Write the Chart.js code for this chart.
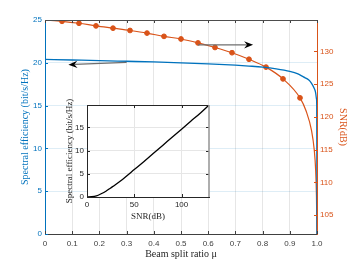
<!DOCTYPE html>
<html>
<head>
<meta charset="utf-8">
<script src="https://cdn.jsdelivr.net/npm/chart.js@4.4.1/dist/chart.umd.min.js"></script>
<style>
    html, body { margin: 0; padding: 0; background: #fff; }
    #wrap { position: relative; width: 350px; height: 263px; }
    #mainChart { position: absolute; left: 0; top: 0; }
    #insetChart { position: absolute; left: 60px; top: 95px; }
</style>
</head>
<body>
<div id="wrap">
    <canvas id="mainChart" width="350" height="263"></canvas>
    <canvas id="insetChart" width="155" height="130"></canvas>
</div>
<script>
/************** data ************/

// spectral efficiency vs beam split ratio (left axis)
const effRatio = [0, 0.1, 0.2, 0.3, 0.4, 0.5, 0.6, 0.7, 0.75, 0.8, 0.85, 0.9, 0.93, 0.95, 0.97, 0.98, 0.99, 0.995, 0.998, 0.999, 1];
const effValues = [20.4, 20.33, 20.26, 20.18, 20.1, 20.0, 19.88, 19.72, 19.62, 19.5, 19.3, 19.0, 18.7, 18.35, 18.0, 17.6, 17.0, 16.5, 15.8, 15.0, 0];

// SNR vs beam split ratio (right axis), points 1..15 carry markers
const snrRatio = [0, 0.0625, 0.125, 0.1875, 0.25, 0.3125, 0.375, 0.4375, 0.5, 0.5625, 0.625, 0.6875, 0.75, 0.8125, 0.875, 0.9375, 0.96, 0.98, 0.99, 0.995, 0.998, 0.999, 0.9995];
const snrValues = [134.8, 134.6, 134.3, 133.9, 133.55, 133.2, 132.8, 132.3, 131.9, 131.3, 130.6, 129.8, 128.8, 127.6, 125.8, 122.9, 120.9, 117.9, 114.9, 111.9, 107.9, 104.9, 102.1];

// inset : spectral efficiency vs SNR
const insetSnr = [0, 5, 10, 15, 20, 25, 30, 35, 40, 50, 60, 70, 80, 90, 100, 110, 120, 129];
const insetEff = [0, 0.05, 0.25, 0.7, 1.25, 1.95, 2.65, 3.4, 4.2, 5.9, 7.6, 9.35, 11.1, 12.85, 14.6, 16.35, 18.1, 19.8];

// tick labels
const xTicks = [0, 0.1, 0.2, 0.3, 0.4, 0.5, 0.6, 0.7, 0.8, 0.9, 1];
const effTicks = [0, 5, 10, 15, 20, 25];
const snrTicks = [105, 110, 115, 120, 125, 130];
const insetXTicks = [0, 50, 100];
const insetYTicks = [0, 5, 10, 15];

// arrows [ratio, value] and the axis they belong to
const arrowTail = [[0.5625, 131.0], [0.30, 20.06]];
const arrowHead = [[0.765, 131.0], [0.086, 19.78]];
const arrowAxis = ['y2', 'y'];

const BLUE = '#0072BD';
const ORANGE = '#D95319';

Chart.defaults.font.family = 'Liberation Sans';

// x,y 묶기
function toPoints(xs, ys) {
    return xs.map((x, i) => ({ x: x, y: ys[i] }));
}

function fixTicks(list) {
    return scale => { scale.ticks = list.map(v => ({ value: v })); };
}

// ticks pointing into the plot, matlab style
function drawInnerTicks(chart, len, mirrorY) {
    const { ctx, chartArea: a, scales } = chart;
    ctx.save();
    ctx.lineWidth = 1;
    Object.values(scales).forEach(s => {
        ctx.strokeStyle = s.options.border.color;
        s.ticks.forEach(t => {
            const p = Math.round(s.getPixelForValue(t.value)) + 0.5;
            ctx.beginPath();
            if (s.isHorizontal()) {
                ctx.moveTo(p, a.bottom); ctx.lineTo(p, a.bottom - len);
                ctx.moveTo(p, a.top); ctx.lineTo(p, a.top + len);
            } else if (s.position === 'left') {
                ctx.moveTo(a.left, p); ctx.lineTo(a.left + len, p);
                if (mirrorY) { ctx.moveTo(a.right, p); ctx.lineTo(a.right - len, p); }
            } else {
                ctx.moveTo(a.right, p); ctx.lineTo(a.right - len, p);
            }
            ctx.stroke();
        });
    });
    ctx.restore();
}

const mainDecor = {
    id: 'mainDecor',
    afterDraw(chart) {
        const { ctx, chartArea: a, scales } = chart;
        drawInnerTicks(chart, 3, false);
        // top box line
        ctx.save();
        ctx.strokeStyle = '#4d4d4d';
        ctx.lineWidth = 1;
        ctx.beginPath();
        ctx.moveTo(a.left, a.top + 0.5);
        ctx.lineTo(a.right, a.top + 0.5);
        ctx.stroke();

        // arrows
        arrowTail.forEach((tail, i) => {
            const yScale = scales[arrowAxis[i]];
            const x0 = scales.x.getPixelForValue(tail[0]);
            const y0 = yScale.getPixelForValue(tail[1]);
            const x1 = scales.x.getPixelForValue(arrowHead[i][0]);
            const y1 = yScale.getPixelForValue(arrowHead[i][1]);
            const ang = Math.atan2(y1 - y0, x1 - x0);
            const L = 9, W = 3.6, N = 6;
            ctx.strokeStyle = '#6e6e6e';
            ctx.lineWidth = 1.3;
            ctx.beginPath();
            ctx.moveTo(x0, y0);
            ctx.lineTo(x1 - N * Math.cos(ang), y1 - N * Math.sin(ang));
            ctx.stroke();
            ctx.fillStyle = '#000';
            ctx.beginPath();
            ctx.moveTo(x1, y1);
            ctx.lineTo(x1 - L * Math.cos(ang) + W * Math.sin(ang), y1 - L * Math.sin(ang) - W * Math.cos(ang));
            ctx.lineTo(x1 - N * Math.cos(ang), y1 - N * Math.sin(ang));
            ctx.lineTo(x1 - L * Math.cos(ang) - W * Math.sin(ang), y1 - L * Math.sin(ang) + W * Math.cos(ang));
            ctx.closePath();
            ctx.fill();
        });
        ctx.restore();
    }
};

const insetDecor = {
    id: 'insetDecor',
    beforeDraw(chart) {
        const { ctx, chartArea: a } = chart;
        ctx.save();
        ctx.fillStyle = '#fff';
        ctx.fillRect(a.left, a.top, a.width, a.height);
        ctx.restore();
    },
    afterDraw(chart) {
        const { ctx, chartArea: a } = chart;
        drawInnerTicks(chart, 3, true);
        ctx.save();
        ctx.strokeStyle = '#262626';
        ctx.lineWidth = 1;
        ctx.beginPath();
        ctx.moveTo(a.left, a.top + 0.5);
        ctx.lineTo(a.right, a.top + 0.5);
        ctx.stroke();
        ctx.strokeStyle = '#9a9a9a';
        ctx.lineWidth = 1.6;
        ctx.beginPath();
        ctx.moveTo(a.right, a.top);
        ctx.lineTo(a.right, a.bottom);
        ctx.stroke();
        ctx.restore();
    }
};

// chart config
function getChart(id, type, data, options, plugins) {
    const ctx = document.getElementById(id);
    return new Chart(ctx, { type: type, data: data, options: options, plugins: plugins });
}

function showMainChart() {
    const data = {
        datasets: [{
            label: 'Spectral efficiency',
            data: toPoints(effRatio, effValues),
            yAxisID: 'y',
            borderColor: BLUE,
            borderWidth: 1.3,
            pointRadius: 0,
            cubicInterpolationMode: 'monotone'
        }, {
            label: 'SNR',
            data: toPoints(snrRatio, snrValues),
            yAxisID: 'y2',
            borderColor: ORANGE,
            borderWidth: 1.2,
            backgroundColor: ORANGE,
            pointBackgroundColor: ORANGE,
            pointBorderColor: ORANGE,
            pointBorderWidth: 1,
            pointRadius: ctx => (ctx.dataIndex >= 1 && ctx.dataIndex <= 15) ? 2.4 : 0,
            cubicInterpolationMode: 'monotone'
        }]
    };
    const options = {
        responsive: false,
        animation: false,
        layout: { padding: { top: 20, right: 0, bottom: 0, left: 0 } },
        plugins: { legend: { display: false }, tooltip: { enabled: false } },
        scales: {
            x: {
                type: 'linear', min: 0, max: 1,
                afterBuildTicks: fixTicks(xTicks),
                afterFit: s => { s.height = 29; },
                grid: { color: '#e6e6e6', drawTicks: false },
                border: { color: '#404040' },
                ticks: { color: '#404040', font: { size: 8 }, padding: 5, maxRotation: 0, autoSkip: false },
                title: { display: true, text: 'Beam split ratio μ', color: '#262626',
                         font: { family: 'Liberation Serif', size: 10 }, padding: { top: 0, bottom: 3 } }
            },
            y: {
                position: 'left', min: 0, max: 25,
                afterBuildTicks: fixTicks(effTicks),
                afterFit: s => { s.width = 45; },
                grid: { color: 'rgba(0,114,189,0.13)', drawTicks: false },
                border: { color: BLUE },
                ticks: { color: BLUE, font: { size: 8 }, padding: 3 },
                title: { display: true, text: 'Spectral efficiency (bit/s/Hz)', color: BLUE,
                         font: { family: 'Liberation Serif', size: 10 }, padding: { top: 19, bottom: 0 } }
            },
            y2: {
                position: 'right', min: 102.1, max: 134.8,
                afterBuildTicks: fixTicks(snrTicks),
                afterFit: s => { s.width = 33; },
                grid: { drawOnChartArea: false, drawTicks: false },
                border: { color: ORANGE },
                ticks: { color: ORANGE, font: { size: 8 }, padding: 3 },
                title: { display: true, text: 'SNR(dB)', color: ORANGE,
                         font: { family: 'Liberation Serif', size: 10 }, padding: { top: 1, bottom: 0 } }
            }
        }
    };
    getChart('mainChart', 'line', data, options, [mainDecor]);
}

function showInsetChart() {
    const data = {
        datasets: [{
            label: 'inset',
            data: toPoints(insetSnr, insetEff),
            borderColor: '#000',
            borderWidth: 1.3,
            pointRadius: 0,
            cubicInterpolationMode: 'monotone'
        }]
    };
    const options = {
        responsive: false,
        animation: false,
        layout: { padding: { top: 10, right: 6, bottom: 0, left: 0 } },
        plugins: { legend: { display: false }, tooltip: { enabled: false } },
        scales: {
            x: {
                type: 'linear', min: 0, max: 129,
                afterBuildTicks: fixTicks(insetXTicks),
                afterFit: s => { s.height = 28; },
                grid: { color: '#e6e6e6', drawTicks: false },
                border: { color: '#262626' },
                ticks: { color: '#262626', font: { size: 8 }, padding: 3, maxRotation: 0 },
                title: { display: true, text: 'SNR(dB)', color: '#262626',
                         font: { family: 'Liberation Serif', size: 9 }, padding: { top: 0, bottom: 3 } }
            },
            y: {
                min: 0, max: 19.8,
                afterBuildTicks: fixTicks(insetYTicks),
                afterFit: s => { s.width = 27; },
                grid: { color: '#e6e6e6', drawTicks: false },
                border: { color: '#262626' },
                ticks: { color: '#262626', font: { size: 8 }, padding: 3 },
                title: { display: true, text: 'Spectral efficiency (bit/s/Hz)', color: '#262626',
                         font: { family: 'Liberation Serif', size: 9 }, padding: { top: 4, bottom: 0 } }
            }
        }
    };
    getChart('insetChart', 'line', data, options, [insetDecor]);
}

window.addEventListener('DOMContentLoaded', function() {
    showMainChart();
    showInsetChart();
});
</script>
</body>
</html>
